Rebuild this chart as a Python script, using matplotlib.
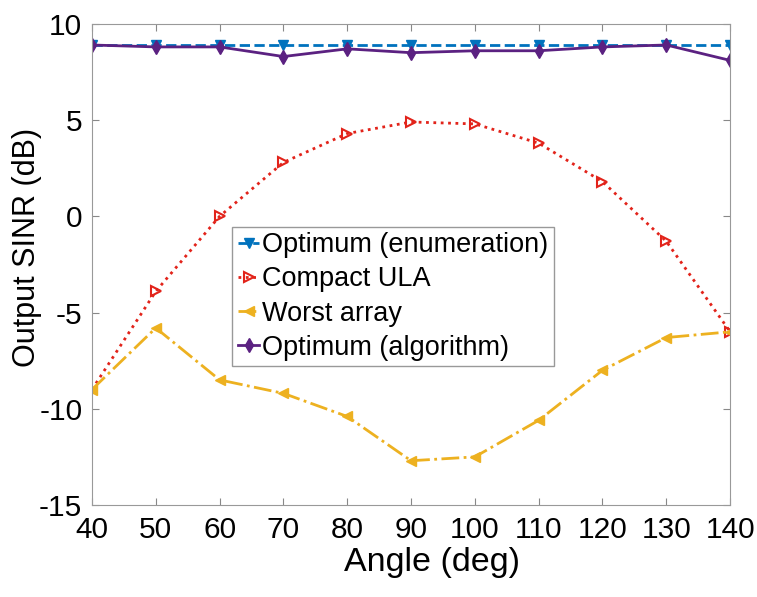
import matplotlib
matplotlib.use('Agg')
import matplotlib.pyplot as plt

plt.rcParams['font.family'] = ['Liberation Sans', 'DejaVu Sans']
plt.rcParams['axes.unicode_minus'] = False

angles = [40, 50, 60, 70, 80, 90, 100, 110, 120, 130, 140]
opt_enum = [8.9, 8.9, 8.9, 8.9, 8.9, 8.9, 8.9, 8.9, 8.9, 8.9, 8.9]
compact_ula = [-9.0, -3.9, 0.0, 2.8, 4.3, 4.9, 4.8, 3.8, 1.8, -1.3, -6.0]
worst_array = [-9.0, -5.8, -8.5, -9.2, -10.4, -12.7, -12.5, -10.6, -8.0, -6.3, -6.0]
opt_alg = [8.9, 8.8, 8.8, 8.3, 8.7, 8.5, 8.6, 8.6, 8.8, 8.9, 8.1]

fig = plt.figure(figsize=(7.57, 5.97), dpi=100)
ax = fig.add_axes([0.1215, 0.1541, 0.843, 0.806])

ax.plot(angles, opt_enum, '--v', color='#0072BD', lw=2, ms=7, label='Optimum (enumeration)')
ax.plot(angles, compact_ula, ':>', color='#e2231a', lw=2, ms=7, mfc='none', mew=1.5, label='Compact ULA')
ax.plot(angles, worst_array, '-.<', color='#EDB120', lw=2, ms=7, label='Worst array')
ax.plot(angles, opt_alg, '-d', color='#5b2181', lw=2, ms=7, label='Optimum (algorithm)')

ax.set_xlim(40, 140)
ax.set_ylim(-15, 10)
ax.set_xticks(range(40, 141, 10))
ax.set_yticks(range(-15, 11, 5))
ax.tick_params(labelsize=21.5, direction='in', length=5, top=True, right=True,
               color='#888888')
ax.tick_params(axis='x', pad=8)
ax.tick_params(axis='y', pad=7)
ax.set_xlabel('Angle (deg)', fontsize=24.5, va='top')
ax.xaxis.set_label_coords(0.533, -0.088)
ax.set_ylabel('Output SINR (dB)', fontsize=22)
ax.yaxis.set_label_coords(-0.078, 0.535)
for s in ax.spines.values():
    s.set_color('#999999')

leg = ax.legend(loc='upper left', bbox_to_anchor=(0.220, 0.578), fontsize=19.5,
                handlelength=0.8, handletextpad=0.1, borderpad=0.2,
                labelspacing=0.3, borderaxespad=0, fancybox=False,
                framealpha=1, edgecolor='#999999')
leg.get_frame().set_linewidth(1)

fig.savefig('out.png', dpi=100)
